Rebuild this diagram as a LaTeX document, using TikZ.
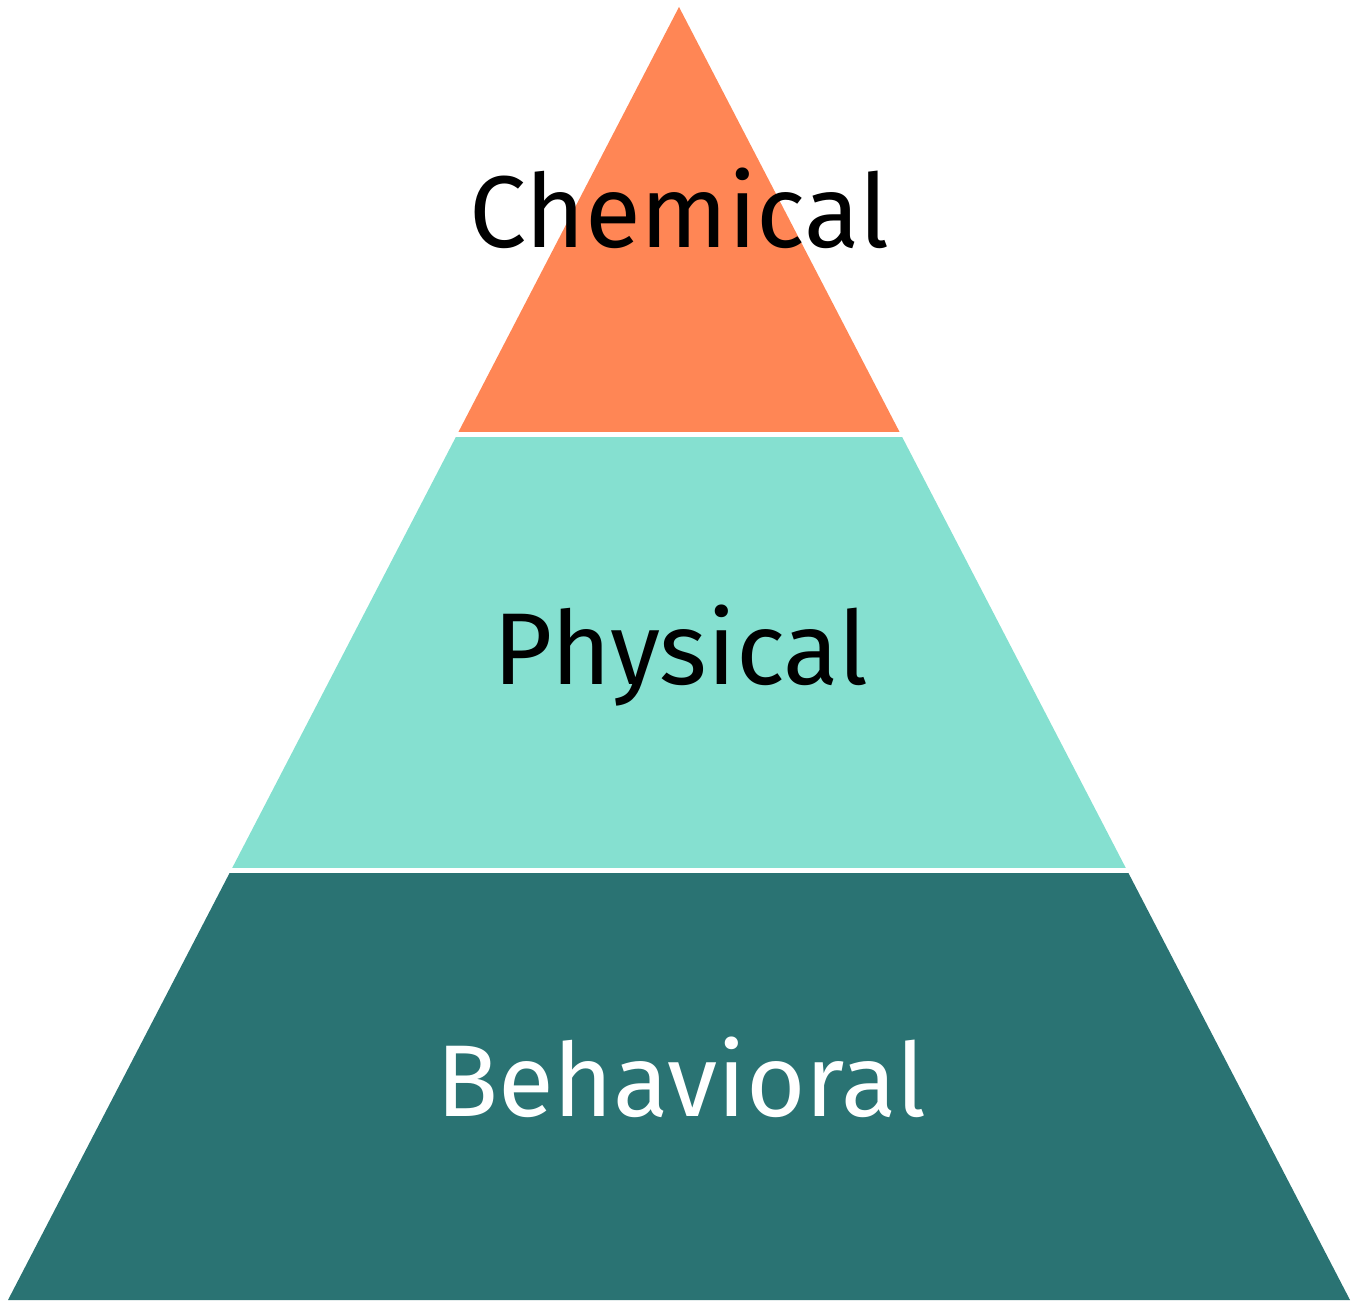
\documentclass[tikz,border=0pt]{standalone}
\usepackage{fontspec}
\setmainfont{Fira Sans}
\definecolor{cOrange}{HTML}{FF8655}
\definecolor{cMint}{HTML}{85E0D0}
\definecolor{cDark}{HTML}{2A7373}
\begin{document}
\begin{tikzpicture}[x=1pt,y=1pt,
  label/.style={anchor=base,font=\fontsize{102}{102}\selectfont,inner sep=0pt}]
\useasboundingbox (0,0) rectangle (1358,1302);
\coordinate (apex) at (679,1295);
\coordinate (bl) at (8,2);
\coordinate (br) at (1350,2);
\begin{scope}
\clip (apex) -- (br) -- (bl) -- cycle;
\fill[cOrange] (0,869.5) rectangle (1358,1302);
\fill[cMint] (0,434) rectangle (1358,864.5);
\fill[cDark] (0,0) rectangle (1358,429);
\end{scope}
\node[label,text=black] (chem) at (679,1054) {Chemical};
\node[label,text=black] (phys) at (681,617) {Physical};
\node[label,text=white] (beh) at (681,185) {Behavioral};
\end{tikzpicture}
\end{document}
